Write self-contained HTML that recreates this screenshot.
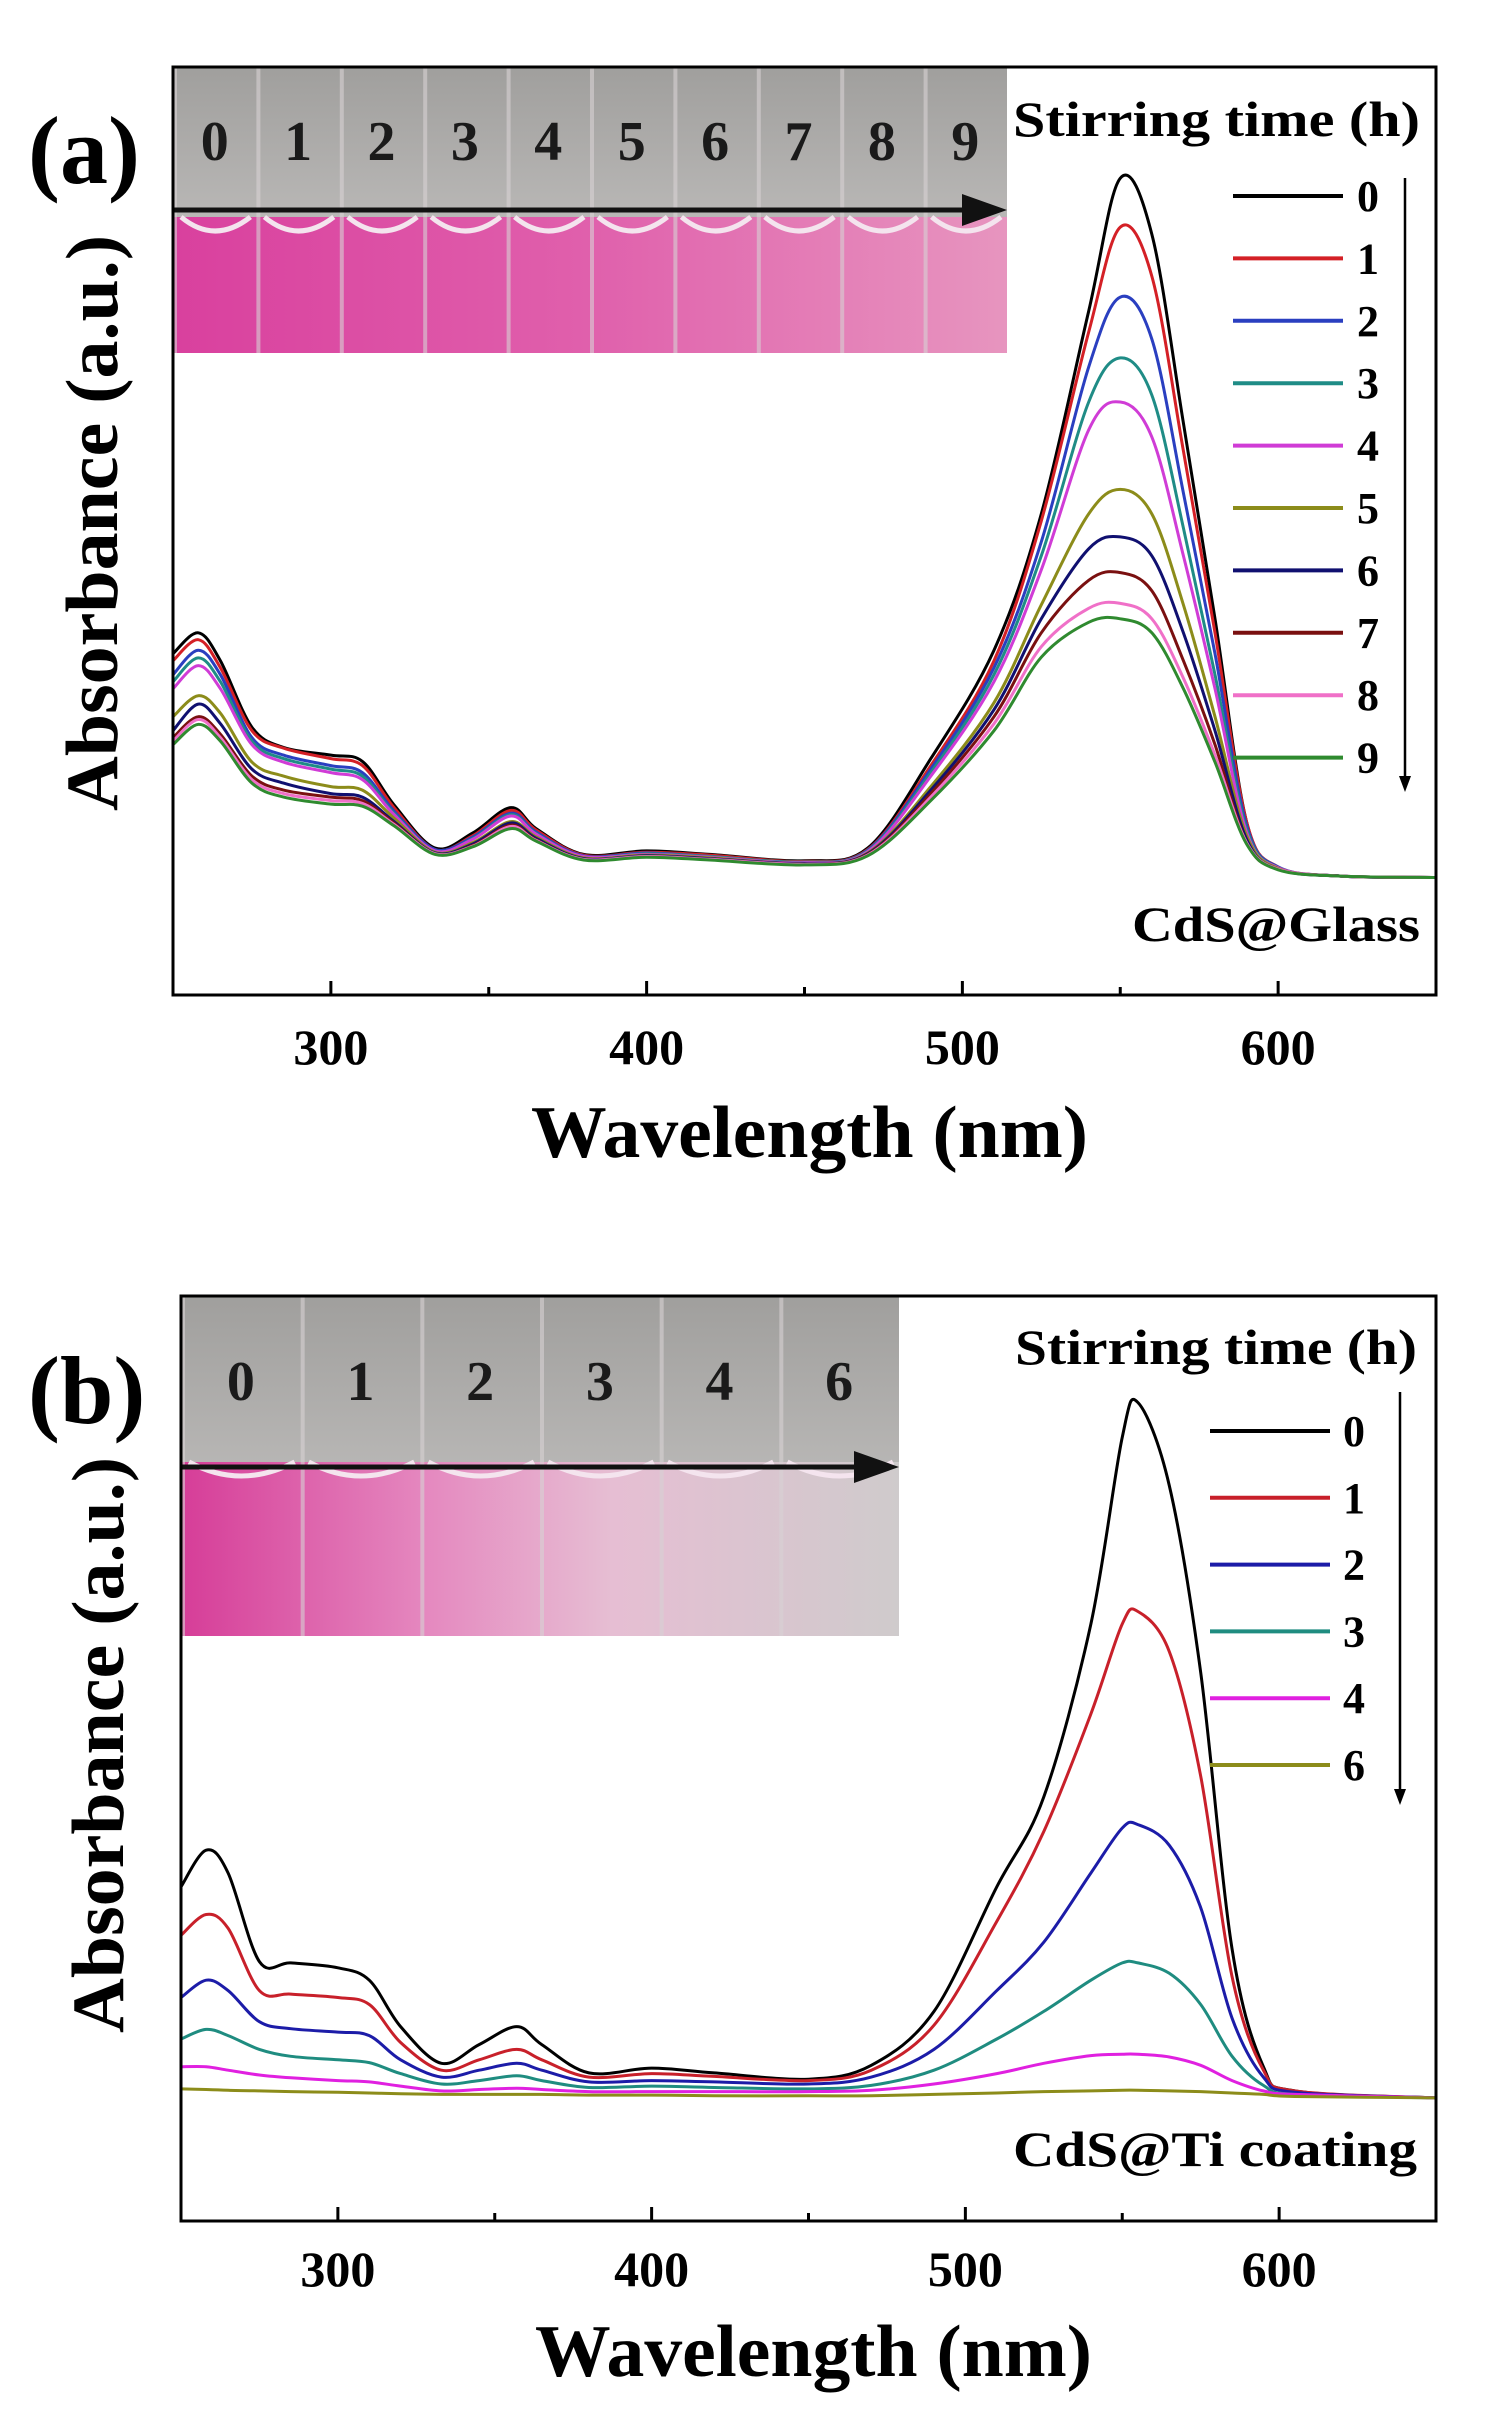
<!DOCTYPE html>
<html><head><meta charset="utf-8">
<style>
body{margin:0;background:#fff;}
svg{display:block;font-family:"Liberation Serif",serif;font-weight:bold;}
</style></head>
<body>
<svg id="fig" width="1505" height="2425" viewBox="0 0 1505 2425" xmlns="http://www.w3.org/2000/svg">
<defs>
<linearGradient id="liqA" x1="0" y1="0" x2="1" y2="0">
<stop offset="0" stop-color="#d9409e"/><stop offset="0.5" stop-color="#e060ac"/><stop offset="1" stop-color="#e795bf"/>
</linearGradient>
<linearGradient id="liqB" x1="0" y1="0" x2="1" y2="0">
<stop offset="0" stop-color="#d63d98"/><stop offset="0.35" stop-color="#e58ac0"/><stop offset="0.6" stop-color="#e6bed3"/><stop offset="1" stop-color="#cfcbcc"/>
</linearGradient>
<linearGradient id="glass" x1="0" y1="0" x2="0" y2="1">
<stop offset="0" stop-color="#a09f9d"/><stop offset="1" stop-color="#cfcdcc"/>
</linearGradient>
</defs>
<g id="panelA"></g>
<g id="panelB"></g>
</svg>
<script>
const NS="http://www.w3.org/2000/svg";
// ---- Panel (a) data ----
const wavelengthsA=[250,258,265,275,285,300,310,320,333,345,357,365,380,400,420,450,470,490,510,525,540,550,560,570,580,590,600,620,650];
const seriesA0=[32,35,31,21.5,18.6,17.5,16.6,10.4,4.2,6.4,10,7,3.3,3.8,3.3,2.4,4.2,17,32.5,52,81,100,92,65,37,8,1.5,0.2,0];
const seriesA1=[31,34,30,21,18.5,17,16,10,4,6,9.6,6.8,3.2,3.6,3.2,2.3,4,16,31,51,78,93,86,61,35,8,1.5,0.2,0];
const seriesA2=[29,32.5,29,20,17.5,16,15,9.5,4,5.8,9.2,6.5,3.1,3.5,3,2.2,3.9,15.5,30,48,73,83,77,55,32,7.5,1.5,0.2,0];
const seriesA3=[28,31.4,28,19.5,17,15.5,14.5,9.2,3.8,5.6,9,6.3,3,3.4,3,2.2,3.8,15,29,46,68,74.3,69,50,29,7,1.4,0.2,0];
const seriesA4=[27,30.3,27,19,16.5,15,14,9,3.8,5.5,8.8,6.2,3,3.3,2.9,2.1,3.7,14.5,28,44,64,68,63,46,27,6.5,1.4,0.2,0];
const seriesA5=[23,26,23.5,16.5,14.5,13,12.5,8.5,3.6,5,8,5.8,2.8,3.2,2.8,2,3.5,13,25,39,52,55.5,52,39,23,6,1.3,0.2,0];
const seriesA6=[21,24.8,22,15.5,13.5,12,11.5,8,3.5,4.8,7.8,5.6,2.7,3.1,2.7,2,3.4,12.5,24,37,47,48.7,46,35,21,5.5,1.2,0.2,0];
const seriesA7=[20,23,20.5,14.5,12.5,11.5,11,7.8,3.4,4.6,7.5,5.4,2.6,3,2.6,1.9,3.3,12,23,35,42.5,43.6,41,31,19,5,1.2,0.2,0];
const seriesA8=[19.5,22.6,20,14,12,11,10.6,7.6,3.4,4.5,7.3,5.3,2.6,3,2.6,1.9,3.2,11.5,22,33,38.5,39.2,37,28.5,17.5,5,1.2,0.2,0];
const seriesA9=[19,21.9,19.5,13.5,11.5,10.5,10.2,7.4,3.3,4.4,7,5.2,2.5,2.9,2.5,1.8,3.1,11,21,31.5,36.5,37,35,27,16.5,4.8,1.1,0.2,0];
const labelsA=["0","1","2","3","4","5","6","7","8","9"];
const colorsA=["#000000","#d42026","#2a3fc0","#1f8c86","#d03cd6","#8c8c1a","#101070","#7a1010","#f070c8","#2f8a2f"];
// ---- Panel (b) data ----
const wavelengthsB=[250,258,265,275,285,300,310,320,333,345,357,365,380,400,420,450,470,490,510,525,540,550,555,565,575,585,595,605,650];
const seriesB0=[30,35.3,32,19.2,19,18.3,16.5,9.8,4.5,7.2,9.8,7.2,3.1,3.8,3.1,2.2,4.2,12,30,43,68,95,100,88,61,21,4,0.5,-0.5];
const seriesB1=[23,26,24,15,14.5,14,13,7.5,3.5,5,6.5,5,2.5,3,2.6,2,3.5,10,25,38,55,68,69.8,64,46,17,3.5,0.5,-0.5];
const seriesB2=[14,16.5,15,10.5,9.5,9,8.5,5,2.5,3.5,4.5,3.5,1.8,2,1.8,1.5,2.5,6.5,15,22,32,38.5,39,36,27,11,2.5,0.3,-0.5];
const seriesB3=[8,9.4,8.5,6.5,5.5,5,4.6,3,1.5,2,2.7,2,1,1.2,1,0.8,1.3,3.5,8,12,16.5,19,19,17.5,13,5.5,1.3,0,-0.5];
const seriesB4=[4,4,3.5,2.8,2.4,2,1.8,1.2,0.5,0.7,0.9,0.7,0.4,0.4,0.4,0.4,0.6,1.5,3,4.5,5.6,5.8,5.8,5.4,4.2,2,0.5,0,-0.5];
const seriesB6=[0.8,0.7,0.6,0.5,0.4,0.3,0.2,0.1,0,0,0,0,-0.1,-0.1,-0.2,-0.2,-0.2,0,0.2,0.4,0.5,0.6,0.6,0.5,0.4,0.2,0,-0.3,-0.5];
const labelsB=["0","1","2","3","4","6"];
const colorsB=["#000000","#c8202a","#1c1ca8","#1f8c80","#e020e0","#8c8c1a"];
const xTicks=[300,400,500,600];
const xMinorTicks=[350,450,550];

function el(tag,attrs,parent){const e=document.createElementNS(NS,tag);for(const k in attrs)e.setAttribute(k,attrs[k]);parent.appendChild(e);return e;}
function pathFrom(pts){
  let d="M"+pts[0][0].toFixed(1)+","+pts[0][1].toFixed(1);
  for(let i=0;i<pts.length-1;i++){
    const p0=pts[Math.max(0,i-1)],p1=pts[i],p2=pts[i+1],p3=pts[Math.min(pts.length-1,i+2)];
    const c1=[p1[0]+(p2[0]-p0[0])/6,p1[1]+(p2[1]-p0[1])/6];
    const c2=[p2[0]-(p3[0]-p1[0])/6,p2[1]-(p3[1]-p1[1])/6];
    d+=" C"+c1[0].toFixed(1)+","+c1[1].toFixed(1)+" "+c2[0].toFixed(1)+","+c2[1].toFixed(1)+" "+p2[0].toFixed(1)+","+p2[1].toFixed(1);
  }
  return d;
}

function drawPanel(g,cfg){
  const {L,T,R,B,ymin,ymax,wl,series,labels,colors}=cfg;
  const xs=v=>L+(v-250)/(650-250)*(R-L);
  const ys=v=>B-(v-ymin)/(ymax-ymin)*(B-T);
  const ph=el('g',{},g);
  
  
  const pw=cfg.photo;
  el('rect',{x:pw.x,y:pw.y,width:pw.w,height:pw.h,fill:'url(#glass)'},ph);
  el('rect',{x:pw.x,y:pw.liq,width:pw.w,height:pw.y+pw.h-pw.liq,fill:pw.grad},ph);
  const n=pw.nums.length, cw=pw.w/n;
  for(let i=0;i<n;i++){
    el('line',{x1:pw.x+cw*i+2,y1:pw.y,x2:pw.x+cw*i+2,y2:pw.y+pw.h,stroke:'#d8d2d4','stroke-width':4,opacity:0.6},ph);
    el('path',{d:`M${pw.x+cw*i+8},${pw.liq} Q${pw.x+cw*(i+0.5)},${pw.liq+28} ${pw.x+cw*(i+1)-6},${pw.liq}`,stroke:'#f4e4ee','stroke-width':5,fill:'none'},ph);
    const t=el('text',{x:pw.x+cw*(i+0.5),y:pw.numY,'font-size':pw.fs,'text-anchor':'middle',fill:'#1a1a1a'},ph);
    t.textContent=pw.nums[i];
    
    
  }
  const ar=el('g',{},ph);
  
  
  el('line',{x1:pw.x,y1:pw.arY,x2:pw.x+pw.w-40,y2:pw.arY,stroke:'#111','stroke-width':5},ar);
  el('polygon',{points:`${pw.x+pw.w-45},${pw.arY-16} ${pw.x+pw.w},${pw.arY} ${pw.x+pw.w-45},${pw.arY+16}`,fill:'#111'},ar);
  series.forEach((s,i)=>{
    const pts=wl.map((w,j)=>[xs(w),ys(s[j])]);
    const p=el('path',{d:pathFrom(pts),fill:'none',stroke:colors[i],'stroke-width':3},g);
    
    
  });
  const fr=el('rect',{x:L,y:T,width:R-L,height:B-T,fill:'none',stroke:'#000','stroke-width':3},g);
  
  
  xTicks.forEach(v=>{
    el('line',{x1:xs(v),y1:B,x2:xs(v),y2:B-14,stroke:'#000','stroke-width':3},g);
    const t=el('text',{x:xs(v),y:cfg.tickY,'font-size':50,'text-anchor':'middle'},g);
    t.textContent=v;
    
    
  });
  xMinorTicks.forEach(v=>{el('line',{x1:xs(v),y1:B,x2:xs(v),y2:B-8,stroke:'#000','stroke-width':3},g);});
  const xt=el('text',{x:(L+R)/2+5,y:cfg.xTitleY,'font-size':74,'text-anchor':'middle',textLength:557,lengthAdjust:'spacingAndGlyphs'},g);
  xt.textContent='Wavelength (nm)';
  
  
  const yt=el('text',{x:0,y:0,'font-size':74,'text-anchor':'middle',textLength:576,lengthAdjust:'spacingAndGlyphs',transform:`translate(${cfg.yTitleX},${cfg.yTitleC}) rotate(-90)`},g);
  yt.textContent='Absorbance (a.u.)';
  
  
  const pl=el('text',{x:28,y:cfg.panelY,'font-size':96},g);
  pl.textContent=cfg.panel;
  
  
  const lg=el('g',{},g);
  
  
  const lt=el('text',{x:cfg.leg.titleL,y:cfg.leg.titleY,'font-size':50,textLength:cfg.leg.titleW,lengthAdjust:'spacingAndGlyphs'},lg);
  lt.textContent='Stirring time (h)';
  
  
  labels.forEach((lab,i)=>{
    const y=cfg.leg.y0+cfg.leg.dy*i;
    const e=el('g',{},lg);
    
    
    el('line',{x1:cfg.leg.x1,y1:y,x2:cfg.leg.x2,y2:y,stroke:colors[i],'stroke-width':4},e);
    const t=el('text',{x:cfg.leg.tx,y:y+15,'font-size':44},e);
    t.textContent=lab;
  });
  const da=el('g',{},lg);
  
  
  el('line',{x1:cfg.leg.ax,y1:cfg.leg.ay1,x2:cfg.leg.ax,y2:cfg.leg.ay2-14,stroke:'#000','stroke-width':2.5},da);
  el('polygon',{points:`${cfg.leg.ax-6},${cfg.leg.ay2-16} ${cfg.leg.ax+6},${cfg.leg.ay2-16} ${cfg.leg.ax},${cfg.leg.ay2}`,fill:'#000'},da);
  const sl=el('text',{x:cfg.sampleL,y:cfg.sampleY,'font-size':50,textLength:cfg.sampleW,lengthAdjust:'spacingAndGlyphs'},g);
  sl.textContent=cfg.sample;
  
  
}

drawPanel(document.getElementById('panelA'),{
  L:173,T:67,R:1436,B:995,ymin:-16.8,ymax:115.9,
  wl:wavelengthsA,
  series:[seriesA0,seriesA1,seriesA2,seriesA3,seriesA4,seriesA5,seriesA6,seriesA7,seriesA8,seriesA9],
  labels:labelsA,colors:colorsA,
  photo:{x:173,y:67,w:834,h:286,liq:217,grad:'url(#liqA)',nums:["0","1","2","3","4","5","6","7","8","9"],numY:160,fs:56,arY:210},
  tickY:1064,xTitleY:1157,yTitleX:117,yTitleC:523,panelY:183,panel:'(a)',
  leg:{titleL:1013,titleW:407,titleY:136,x1:1233,x2:1343,tx:1357,y0:196,dy:62.4,ax:1405,ay1:178,ay2:792},
  sampleL:1132,sampleW:288,sampleY:941,sample:'CdS@Glass'
});
drawPanel(document.getElementById('panelB'),{
  L:181,T:1296,R:1436,B:2221,ymin:-18.3,ymax:115.4,
  wl:wavelengthsB,
  series:[seriesB0,seriesB1,seriesB2,seriesB3,seriesB4,seriesB6],
  labels:labelsB,colors:colorsB,
  photo:{x:181,y:1296,w:718,h:340,liq:1462,grad:'url(#liqB)',nums:["0","1","2","3","4","6"],numY:1400,fs:56,arY:1467},
  tickY:2286,xTitleY:2376,yTitleX:123,yTitleC:1745,panelY:1423,panel:'(b)',
  leg:{titleL:1015,titleW:402,titleY:1364,x1:1210,x2:1330,tx:1343,y0:1431,dy:66.8,ax:1400,ay1:1392,ay2:1805},
  sampleL:1013,sampleW:404,sampleY:2166,sample:'CdS@Ti coating'
});
</script>
</body></html>
